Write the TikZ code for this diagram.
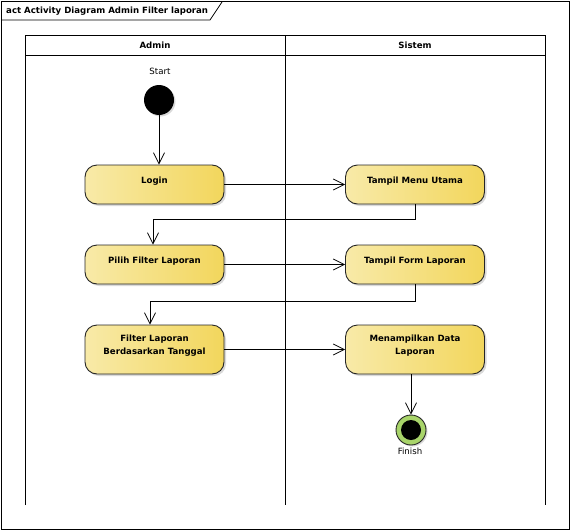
\documentclass[tikz,border=0pt]{standalone}
\usepackage{fontspec}
\setmainfont{DejaVu Sans}
\usetikzlibrary{arrows.meta,shadows}
\definecolor{actL}{HTML}{F8EAA8}
\definecolor{actR}{HTML}{F2D65C}
\definecolor{finG}{HTML}{A8D46A}
\tikzset{
  act/.style={draw=black!85, line width=0.9pt, rounded corners=12pt,
    left color=actL, right color=actR, minimum width=139pt, minimum height=39pt,
    align=center, font=\fontsize{8.6}{13}\selectfont\bfseries,
    drop shadow={shadow xshift=2pt, shadow yshift=-2pt, fill=black!25, opacity=0.6}},
  flow/.style={draw=black, line width=0.8pt, -{Straight Barb[length=11pt,width=11pt,line width=0.8pt]}},
  lane/.style={draw=black, line width=1pt},
  lbl/.style={font=\fontsize{8.6}{10}\selectfont},
  hdr/.style={font=\fontsize{8.6}{10}\selectfont\bfseries}
}
\begin{document}
\begin{tikzpicture}[x=1pt,y=-1pt]
\useasboundingbox (0,0) rectangle (570,530);
% outer frame
\draw[line width=1pt] (1,1) rectangle (569,529);
\draw[line width=0.8pt] (1,20) -- (210,20) -- (222,2);
\node[anchor=west, inner sep=0pt, font=\fontsize{8.6}{10}\selectfont\bfseries] (title) at (6,11) {act Activity Diagram Admin Filter laporan};
% swimlanes
\draw[lane] (25,505) -- (25,35) -- (545,35) -- (545,505);
\draw[lane] (285,35) -- (285,505);
\draw[lane] (25,55) -- (545,55);
\node[hdr] (hA) at (155,45) {Admin};
\node[hdr] (hS) at (415,45) {Sistem};
% start
\node[circle, fill=black, minimum size=30pt, inner sep=0pt,
  drop shadow={shadow xshift=1.5pt, shadow yshift=-1.5pt, fill=black!25, opacity=0.6}] (start) at (159,100) {};
\node[lbl] (startl) at (160,71) {Start};
% activities
\node[act, text depth=8pt] (login) at (154.5,184.5) {Login};
\node[act, text depth=8pt] (menu) at (415,184.5) {Tampil Menu Utama};
\node[act, text depth=8pt] (pilih) at (154.5,264.5) {Pilih Filter Laporan};
\node[act, text depth=8pt] (form) at (415,264.5) {Tampil Form Laporan};
\node[act, minimum height=49pt, text depth=9pt] (filter) at (154.5,349.5) {Filter Laporan\\Berdasarkan Tanggal};
\node[act, minimum height=49pt, text depth=9pt] (data) at (415,349.5) {Menampilkan Data\\Laporan};
% finish
\node[circle, draw=black!85, line width=0.9pt, fill=finG, minimum size=30pt, inner sep=0pt,
  drop shadow={shadow xshift=1.5pt, shadow yshift=-1.5pt, fill=black!25, opacity=0.6}] (fin) at (411,430) {};
\node[circle, fill=black, minimum size=20pt, inner sep=0pt] (finin) at (fin) {};
\node[lbl] (finl) at (410,451) {Finish};
% flows
\draw[flow] (start.south) -- (login.north -| start.south);
\draw[flow] (login.east) -- (menu.west);
\draw[flow] (menu.south) -- ++(0,15) -| ([xshift=-1.5pt]pilih.north);
\draw[flow] (pilih.east) -- (form.west);
\draw[flow] (form.south) -- ++(0,17) -| ([xshift=-4.5pt]filter.north);
\draw[flow] (filter.east) -- (data.west);
\draw[flow] (fin.north |- data.south) -- (fin.north);
\end{tikzpicture}
\end{document}
